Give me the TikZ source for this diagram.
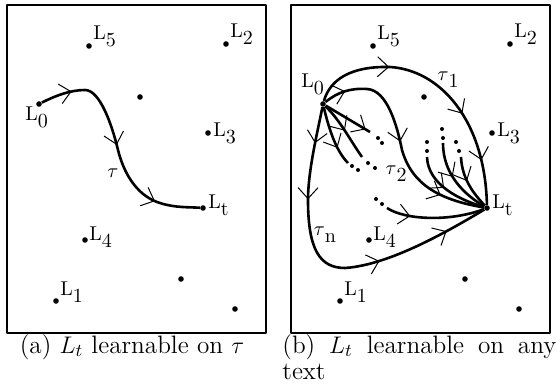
\documentclass[tikz,border=0pt]{standalone}
\usepackage{amsmath}
\usepackage{tikz}
\usetikzlibrary{arrows.meta,decorations.markings}
\tikzset{
  barb/.tip={Straight Barb[length=5.5pt,width=10pt,line width=0.5pt]},
  arrat/.style={postaction={decorate,decoration={markings,mark=at position #1 with {\arrow{barb}}}}}
}
\newcommand{\lsub}[2]{#1\raisebox{-3.5pt}{#2}}

\begin{document}
\begin{tikzpicture}[x=0.5pt,y=-0.5pt,line join=round,
  dot/.style={circle,fill,inner sep=0pt,minimum size=2.8pt},
  lab/.style={inner sep=0pt,font=\fontsize{10}{12}\selectfont},
  captext/.style={inner sep=0pt,font=\fontsize{12.6}{15}\selectfont},
  trail/.style={line width=1.3pt}]
\useasboundingbox (0,0) rectangle (557,385);
\draw[line width=0.8pt] (7,5) rectangle (266,333);
\draw[line width=0.8pt] (291,5) rectangle (550,333);
\foreach \p/\dx in {a/0,b/284}{
  \begin{scope}[xshift=\dx*0.5pt]
  \foreach \n/\x/\y in {L5/89/46,L2/226/44,u1/140/97,L0/39/104,L3/208/133,Lt/203/208,L4/85/240,u2/181/279,L1/56/301,u3/235/309}
    \node[dot] (\p\n) at (\x,\y) {};
  \foreach \t/\x/\y in {5/93/40,2/230/38,3/213/137,t/208/208,4/89/240,1/60/295}
    \node[lab,anchor=base west] (\p lab\t) at (\x,\y) {\lsub{L}{\t}};
  \end{scope}
}
\node[lab,anchor=base west] (alab0) at (25,121) {\lsub{L}{0}};
\node[lab,anchor=base west] (blab0) at (301,88) {\lsub{L}{0}};
\draw[trail,arrat=0.14,arrat=0.49,arrat=0.8] (aL0) .. controls (55,96) and (70,90) .. (85,90)
  .. controls (100,90) and (112,125) .. (118,150) .. controls (125,178) and (140,197) .. (160,203)
  .. controls (175,208) and (190,207) .. (aLt);
\node[lab] (tau) at (113,173) {$\tau$};
\draw[trail,arrat=0.3,arrat=0.64,arrat=0.83] (bL0) .. controls (330,80) and (350,66) .. (390,67)
  .. controls (440,70) and (485,120) .. (bLt);
\draw[trail,arrat=0.1,arrat=0.49,arrat=0.8] (bL0) .. controls (338,92) and (350,88) .. (367,89)
  .. controls (387,90) and (397,125) .. (402,150) .. controls (412,185) and (440,200) .. (bLt);
\draw[trail,arrat=0.11,arrat=0.28,arrat=0.65,arrat=0.87] (bL0) .. controls (318,130) and (308,170) .. (308,200)
  .. controls (308,250) and (320,268) .. (345,268) .. controls (390,265) and (450,230) .. (bLt);
\coordinate (bS) at (387,208);
\coordinate (bA) at (370,132);
\coordinate (bB) at (362,157);
\coordinate (bC) at (348,163);
\coordinate (bF1) at (427,157);
\coordinate (bF2) at (443,143);
\coordinate (bF3) at (461,157);
\draw[trail,arrat=0.25] (bS) .. controls (405,220) and (450,222) .. (bLt);
\draw[trail,arrat=0.9] (bL0) -- (bA);
\draw[trail,arrat=0.5] (bL0) .. controls (340,120) and (350,140) .. (bB);
\draw[trail,arrat=0.7] (bL0) .. controls (328,125) and (335,150) .. (bC);
\draw[trail,arrat=0.45] (bF1) .. controls (428,185) and (460,200) .. (bLt);
\draw[trail,arrat=0.45] (bF2) .. controls (443,175) and (465,195) .. (bLt);
\draw[trail,arrat=0.45] (bF3) .. controls (462,180) and (475,195) .. (bLt);
\foreach \x/\y in {378/138,382/143,368/163,375/168,352/166,358/170,376/199,382/204,427/142,427/151,442/129,443/138,456/142,459/151}
  \fill (\x,\y) circle[radius=2];
\node[lab] (tau1) at (448,80) {\lsub{$\tau$}{1}};
\node[lab] (tau2) at (396,174) {\lsub{$\tau$}{2}};
\node[lab] (taun) at (325,235) {\lsub{$\tau$}{n}};
\node[captext,anchor=base] (capa) at (132,353) {(a) $L_t$ learnable on $\tau$};
\node[captext,anchor=base west] (capb) at (282,353) {\makebox[137pt][s]{(b) $L_t$ learnable on any}};
\node[captext,anchor=base west] (capbb) at (282,379) {text};
\end{tikzpicture}
\end{document}
